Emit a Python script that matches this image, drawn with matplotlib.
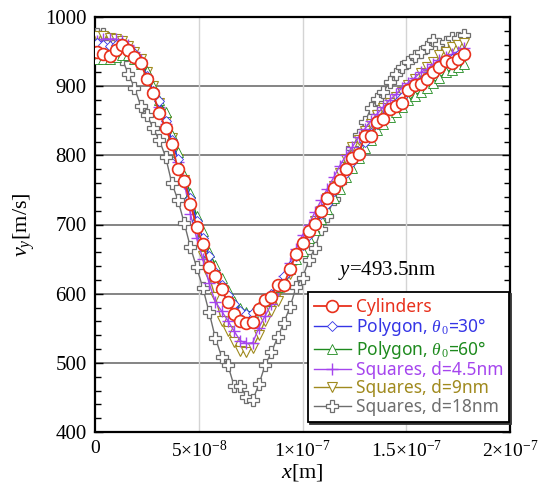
import numpy as np
import matplotlib as mpl
mpl.use('Agg')
import matplotlib.pyplot as plt

plt.rcParams['font.family'] = 'Liberation Serif'
plt.rcParams['mathtext.fontset'] = 'custom'
plt.rcParams['mathtext.rm'] = 'Liberation Serif'
plt.rcParams['mathtext.it'] = 'Liberation Serif:italic'

# x grid of the sampled points [m]
x = np.arange(60) * 3.0e-9 + 1.0e-9

cylinders = [949, 947, 944, 952, 959, 952, 942, 933, 911, 890,
             861, 840, 816, 780, 763, 730, 696, 672, 638, 625,
             607, 588, 571, 560, 558, 559, 578, 591, 595, 613,
             613, 636, 657, 673, 691, 701, 719, 739, 753, 765,
             780, 796, 802, 828, 828, 848, 853, 867, 871, 876,
             895, 901, 903, 911, 920, 927, 936, 934, 940, 947]
polygon30 = [962, 960, 958, 960, 962, 955, 948, 935, 915, 893,
             878, 850, 822, 795, 765, 738, 705, 680, 655, 632,
             612, 598, 585, 575, 570, 572, 580, 590, 600, 612,
             625, 640, 655, 670, 685, 700, 715, 730, 748, 762,
             775, 790, 805, 820, 832, 845, 856, 865, 875, 885,
             893, 900, 908, 915, 922, 930, 935, 940, 945, 950]
polygon60 = [940, 940, 940, 942, 945, 945, 940, 932, 922, 900,
             880, 862, 830, 805, 772, 745, 712, 690, 660, 642,
             622, 605, 590, 580, 574, 574, 582, 590, 598, 610,
             622, 635, 650, 662, 680, 692, 708, 722, 738, 752,
             768, 782, 796, 810, 822, 836, 845, 856, 862, 870,
             880, 886, 892, 898, 905, 912, 920, 924, 928, 932]
squares45 = [966, 968, 968, 968, 966, 960, 950, 938, 915, 895,
             870, 845, 818, 790, 760, 715, 680, 650, 615, 588,
             575, 561, 546, 532, 528, 529, 551, 568, 585, 605,
             625, 645, 665, 685, 700, 718, 735, 752, 768, 785,
             800, 812, 826, 838, 850, 860, 870, 880, 888, 898,
             905, 912, 920, 925, 932, 938, 942, 946, 950, 955]
squares9 = [972, 972, 970, 968, 965, 958, 950, 940, 920, 900,
            875, 850, 825, 795, 765, 732, 695, 655, 625, 595,
            561, 546, 530, 517, 515, 522, 540, 561, 575, 590,
            609, 629, 648, 667, 685, 705, 720, 738, 756, 775,
            795, 812, 822, 835, 845, 858, 868, 876, 885, 892,
            902, 910, 919, 927, 935, 945, 950, 956, 959, 962]
squares18 = [975, 976, 964, 952, 940, 918, 898, 872, 859, 839,
             822, 798, 760, 735, 702, 667, 638, 608, 573, 536,
             509, 497, 467, 466, 451, 446, 469, 497, 515, 537,
             558, 581, 610, 623, 648, 666, 694, 712, 737, 762,
             787, 810, 830, 848, 868, 882, 892, 906, 918, 928,
             935, 943, 950, 956, 967, 961, 964, 969, 969, 974]

labels = ['Cylinders', r'Polygon, $\theta$$_{\,0}$=30°', r'Polygon, $\theta$$_{\,0}$=60°',
          'Squares, d=4.5nm', 'Squares, d=9nm', 'Squares, d=18nm']
colors = ['#e8301c', '#3535e6', '#1e8a1e', '#a545ee', '#a08a1e', '#6e6e6e']

fig = plt.figure(figsize=(5.5, 4.93), dpi=100)
ax = fig.add_axes([95/550, 1-432/493, 415/550, 415/493])

l18, = ax.plot(x, squares18, color=colors[5], lw=1, marker='P', ms=8.5, mfc='white', mec=colors[5], mew=0.9, zorder=3)
l9, = ax.plot(x, squares9, color=colors[4], lw=1, marker='v', ms=7, mfc='white', mec=colors[4], mew=0.8, zorder=4)
l45, = ax.plot(x, squares45, color=colors[3], lw=1, marker='+', ms=9, mec=colors[3], mew=1, zorder=5)
l60, = ax.plot(x, polygon60, color=colors[2], lw=1, marker='^', ms=7, mfc='white', mec=colors[2], mew=0.6, zorder=6)
l30, = ax.plot(x, polygon30, color=colors[1], lw=1, marker='D', ms=5, mfc='white', mec=colors[1], mew=0.6, zorder=7)
lcyl, = ax.plot(x, cylinders, color=colors[0], lw=1.3, marker='o', ms=8.5, mfc='white', mec=colors[0], mew=1.2, zorder=8)

ax.set_xlim(0, 2e-7)
ax.set_ylim(400, 1000)
ax.set_xticks([0, 5e-8, 1e-7, 1.5e-7, 2e-7])
ax.set_xticklabels(['0', r'5×10$^{-8}$', r'1×10$^{-7}$', r'1.5×10$^{-7}$', r'2×10$^{-7}$'], fontsize=14)
ax.set_yticks(range(400, 1001, 100))
ax.set_yticks(range(400, 1001, 20), minor=True)
ax.tick_params(axis='y', which='major', direction='in', length=6, width=1, right=True, labelsize=15, pad=6)
ax.tick_params(axis='y', which='minor', direction='in', length=4, width=1, right=True)
ax.tick_params(axis='x', which='major', length=0, pad=6)

for yv in range(500, 1000, 100):
    ax.axhline(yv, color='#707070', lw=1.2, zorder=1)
for xv in [5e-8, 1e-7, 1.5e-7]:
    ax.axvline(xv, color='#d4d4d4', lw=1, zorder=1)
for s in ax.spines.values():
    s.set_linewidth(1.6)

ax.set_xlabel(r'$x$[m]', fontsize=16, labelpad=0)
ax.set_ylabel(r'$v_y$[m/s]', fontsize=16, labelpad=6)
ax.text(1.17e-7, 633, r'$y$=493.5nm', fontsize=15, va='center')

leg = ax.legend([lcyl, l30, l60, l45, l9, l18], labels, loc='upper left',
                bbox_to_anchor=(308/550, 1-292/493), bbox_transform=fig.transFigure,
                borderaxespad=0, frameon=True, fancybox=False,
                shadow={'color': '#333333', 'alpha': 1, 'ox': 1.5, 'oy': -1.5},
                framealpha=1, edgecolor='black',
                prop={'family': 'Noto Sans', 'size': 12.5}, handlelength=2.1, labelspacing=0.02,
                borderpad=0.35, handletextpad=0.3)
leg.get_frame().set_linewidth(1.3)
leg.set_zorder(20)
for txt, c in zip(leg.get_texts(), colors):
    txt.set_color(c)

fig.savefig('out.png', dpi=100)
